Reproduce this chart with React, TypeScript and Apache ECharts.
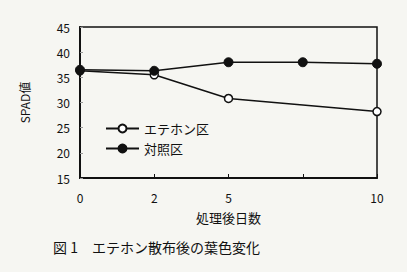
import React, { useEffect, useRef } from "react";
import * as echarts from "echarts";

const categories = ["0", "2", "5", "7", "10"];
const axisLabels = ["0", "2", "5", "", "10"];
const ethephon = [36.3, 35.5, 30.8, null, 28.2];
const control = [36.5, 36.3, 38.0, 38.0, 37.7];
const seriesNames = ["エテホン区", "対照区"];
const yMin = 15;
const yMax = 45;
const yInterval = 5;
const xTitle = "処理後日数";
const yTitle = "SPAD値";
const caption = "図 1　エテホン散布後の葉色変化";

const FONT = "'Noto Sans CJK JP', 'Noto Sans', sans-serif";

export default function App() {
  const ref = useRef<HTMLDivElement>(null);
  useEffect(() => {
    if (!ref.current) return;
    const chart = echarts.init(ref.current, null, { renderer: "svg" });
    chart.setOption({
      animation: false,
      backgroundColor: "#f6f6f2",
      textStyle: { fontFamily: FONT, color: "#111" },
      grid: {
        left: 80,
        right: 30,
        top: 27,
        bottom: 94,
        show: true,
        borderColor: "#111",
        borderWidth: 1.5,
      },
      legend: {
        orient: "vertical",
        left: 100,
        top: 117,
        itemWidth: 33,
        itemHeight: 10,
        itemGap: 7,
        data: seriesNames,
        textStyle: { fontFamily: FONT, fontSize: 13, color: "#111" },
      },
      xAxis: {
        type: "category",
        data: categories,
        boundaryGap: false,
        name: xTitle,
        nameLocation: "middle",
        nameGap: 33,
        nameTextStyle: { fontFamily: FONT, fontSize: 13, color: "#111" },
        axisLine: { lineStyle: { color: "#111", width: 2 } },
        axisTick: { inside: true, length: 4, lineStyle: { color: "#111" } },
        axisLabel: {
          margin: 13,
          fontSize: 12,
          color: "#111",
          fontFamily: FONT,
          formatter: (_v: string, i: number) => axisLabels[i],
        },
        splitLine: { show: false },
      },
      yAxis: {
        type: "value",
        min: yMin,
        max: yMax,
        interval: yInterval,
        name: yTitle,
        nameLocation: "middle",
        nameGap: 50,
        nameTextStyle: { fontFamily: FONT, fontSize: 12, color: "#111" },
        axisLine: { show: true, lineStyle: { color: "#111", width: 2 } },
        axisTick: { show: true, inside: true, length: 3, lineStyle: { color: "#999" } },
        axisLabel: { margin: 10, fontSize: 12, color: "#111", fontFamily: FONT },
        splitLine: { show: false },
      },
      series: [
        {
          name: seriesNames[0],
          type: "line",
          data: ethephon,
          connectNulls: true,
          symbol: "circle",
          symbolSize: 8,
          itemStyle: { color: "#fff", borderColor: "#111", borderWidth: 1.5 },
          lineStyle: { color: "#111", width: 1.5 },
          z: 2,
        },
        {
          name: seriesNames[1],
          type: "line",
          data: control,
          symbol: "circle",
          symbolSize: 9,
          itemStyle: { color: "#111", borderColor: "#111", borderWidth: 1 },
          lineStyle: { color: "#111", width: 1.5 },
          z: 3,
        },
      ],
      graphic: [
        {
          type: "text",
          left: 53,
          top: 240,
          style: { text: caption, fontFamily: FONT, fontSize: 14, fill: "#111" },
        },
      ],
    });
    return () => chart.dispose();
  }, []);
  return (
    <div
      ref={ref}
      style={{ position: "fixed", left: 0, top: 0, width: 407, height: 272 }}
    />
  );
}
